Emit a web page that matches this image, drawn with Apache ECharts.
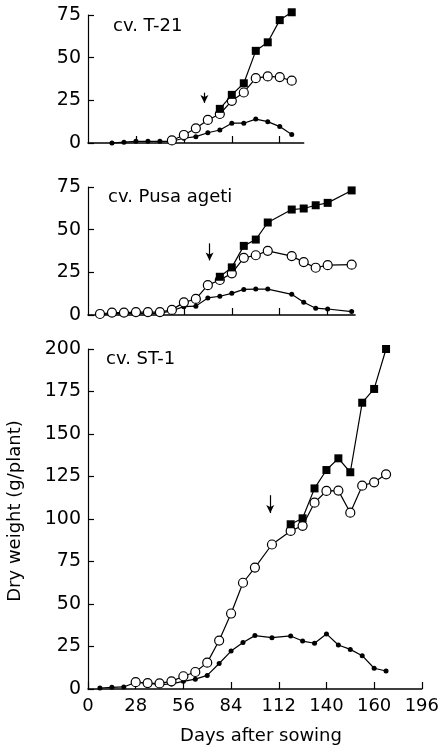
<!DOCTYPE html>
<html lang="en">
<head>
<meta charset="UTF-8">
<script src="https://cdn.jsdelivr.net/npm/echarts@6.0.0/dist/echarts.min.js"></script>
<title>Dry weight</title>
<style>
  body { margin: 0; padding: 0; background: #fff; }
  #chart { width: 442px; height: 748px; }
</style>
</head>
<body>
<div id="chart"></div>
<script>
  // cv. T-21
  const t21DaysA = [77, 84, 91, 98, 105, 112, 119];
  const t21A = [20, 28.2, 35, 54, 59, 72, 76.6];
  const t21DaysB = [49, 56, 63, 70, 77, 84, 91, 98, 105, 112, 119];
  const t21B = [1.5, 4.7, 8.6, 13.5, 17, 24.7, 29.6, 38, 39, 38.6, 36.5];
  const t21DaysC = [14, 21, 28, 35, 42, 49, 56, 63, 70, 77, 84, 91, 98, 105, 112, 119];
  const t21C = [0, 0.5, 1, 1, 1, 1, 2.8, 3.7, 6, 7.6, 11.6, 11.6, 14, 12.5, 9.6, 5];

  // cv. Pusa ageti
  const pusaDaysA = [77, 84, 91, 98, 105, 119, 126, 133, 140, 154];
  const pusaA = [22.4, 27.9, 40.5, 44.2, 54.2, 61.8, 62.4, 64.3, 65.7, 73];
  const pusaDaysB = [7, 14, 21, 28, 35, 42, 49, 56, 63, 70, 77, 84, 91, 98, 105, 119, 126, 133, 140, 154];
  const pusaB = [0.6, 1.4, 1.4, 1.7, 1.7, 1.7, 3, 7.4, 9.4, 17.5, 20.5, 24.4, 33.5, 35, 37.6, 34.5, 31, 27.7, 29.2, 29.5];
  const pusaDaysC = [7, 14, 21, 28, 35, 42, 49, 56, 63, 70, 77, 84, 91, 98, 105, 119, 126, 133, 140, 154];
  const pusaC = [0.3, 0.8, 0.8, 1, 1, 1, 2.5, 4.9, 5.2, 10, 11, 12.7, 15, 15.2, 15.2, 12.1, 7.5, 4, 3.5, 2];

  // cv. ST-1
  const stDaysA = [119, 126, 133, 140, 147, 154, 161, 168, 175];
  const stA = [96.9, 100.4, 118, 128.8, 135.7, 127.5, 168.4, 176.5, 200];
  const stDaysB = [28, 35, 42, 49, 56, 63, 70, 77, 84, 91, 98, 108, 119, 126, 133, 140, 147, 154, 161, 168, 175];
  const stB = [4, 3.5, 3.3, 4.5, 7.5, 10, 15.5, 28.5, 44.4, 62.5, 71.4, 85, 93, 96, 109.6, 116.5, 116.7, 103.7, 119.6, 121.6, 126.3];
  const stDaysC = [7, 14, 21, 28, 35, 42, 49, 56, 63, 70, 77, 84, 91, 98, 108, 119, 126, 133, 140, 147, 154, 161, 168, 175];
  const stC = [0.6, 1, 1.2, 4, 3.5, 2.5, 3, 4.5, 5.8, 8, 15, 22.3, 27.4, 31.4, 30.2, 31.2, 28.2, 26.9, 32.4, 25.9, 23.3, 19.6, 12.2, 10.6];

  // arrows (day, start value, tip value) per panel
  const arrowDays = [68, 71, 107];
  const arrowFrom = [29.5, 42, 114];
  const arrowTo = [23.5, 32, 103.5];

  const panelNames = ['cv. T-21', 'cv. Pusa ageti', 'cv. ST-1'];
  const xTickLabels = ['0', '28', '56', '84', '112', '140', '160', '196'];
  const yTitle = 'Dry weight (g/plant)';
  const xTitle = 'Days after sowing';

  const font = '"DejaVu Sans", sans-serif';
  const pxPerDay = 1.712;

  function pairs(days, vals) {
    return days.map((d, i) => [d, vals[i]]);
  }

  function xAxisFor(idx, max, withLabels) {
    return {
      type: 'value', gridIndex: idx, min: 0, max: max, interval: 28,
      axisLine: { show: true, lineStyle: { color: '#000', width: 1.5 } },
      axisTick: { show: true, inside: true, length: 7, lineStyle: { color: '#000', width: 1.2 },
                  customValues: withLabels ? undefined : [28, 56, 84, 112, 140].filter(v => v < max) },
      axisLabel: withLabels ? {
        show: true, color: '#000', fontFamily: font, fontSize: 18, margin: 8,
        formatter: v => xTickLabels[Math.round(v / 28)]
      } : { show: false },
      splitLine: { show: false }
    };
  }

  function yAxisFor(idx, max) {
    return {
      type: 'value', gridIndex: idx, min: 0, max: max, interval: 25,
      axisLine: { show: true, lineStyle: { color: '#000', width: 1.2 } },
      axisTick: { show: true, inside: true, length: 6, lineStyle: { color: '#000', width: 1.2 } },
      axisLabel: { color: '#000', fontFamily: font, fontSize: 19, margin: 7 },
      splitLine: { show: false }
    };
  }

  function seriesFor(idx, a, b, c, arrow) {
    const base = { type: 'line', xAxisIndex: idx, yAxisIndex: idx, clip: false,
                   lineStyle: { color: '#000', width: 1.2 }, emphasis: { disabled: true } };
    return [
      Object.assign({}, base, {
        data: c, symbol: 'circle', symbolSize: 5, itemStyle: { color: '#000' }, z: 2,
        markLine: {
          silent: true, symbol: ['none', 'arrow'], symbolSize: [6, 8],
          label: { show: false },
          lineStyle: { color: '#000', width: 1.2, type: 'solid' },
          data: [[{ coord: [arrow[0], arrow[1]] }, { coord: [arrow[0], arrow[2]] }]]
        }
      }),
      Object.assign({}, base, {
        data: b, symbol: 'circle', symbolSize: 9, z: 3,
        itemStyle: { color: '#fff', borderColor: '#000', borderWidth: 1.2 }
      }),
      Object.assign({}, base, {
        data: a, symbol: 'rect', symbolSize: 8, itemStyle: { color: '#000' }, z: 4
      })
    ];
  }

  const maxDays = [126, 156, 196];
  const chart = echarts.init(document.getElementById('chart'));

  const option = {
    animation: false,
    backgroundColor: '#fff',
    grid: [
      { left: 88, top: 15, width: maxDays[0] * pxPerDay, height: 128 },
      { left: 88, top: 187, width: maxDays[1] * pxPerDay, height: 128 },
      { left: 88, top: 349, width: maxDays[2] * pxPerDay, height: 340 }
    ],
    xAxis: [xAxisFor(0, maxDays[0], false), xAxisFor(1, maxDays[1], false), xAxisFor(2, maxDays[2], true)],
    yAxis: [yAxisFor(0, 75), yAxisFor(1, 75), yAxisFor(2, 200)],
    series: [].concat(
      seriesFor(0, pairs(t21DaysA, t21A), pairs(t21DaysB, t21B), pairs(t21DaysC, t21C),
                [arrowDays[0], arrowFrom[0], arrowTo[0]]),
      seriesFor(1, pairs(pusaDaysA, pusaA), pairs(pusaDaysB, pusaB), pairs(pusaDaysC, pusaC),
                [arrowDays[1], arrowFrom[1], arrowTo[1]]),
      seriesFor(2, pairs(stDaysA, stA), pairs(stDaysB, stB), pairs(stDaysC, stC),
                [arrowDays[2], arrowFrom[2], arrowTo[2]])
    ),
    graphic: [
      { type: 'text', x: 113, y: 26, style: { text: panelNames[0], font: '18px ' + font, fill: '#000', verticalAlign: 'middle' } },
      { type: 'text', x: 108, y: 197, style: { text: panelNames[1], font: '18px ' + font, fill: '#000', verticalAlign: 'middle' } },
      { type: 'text', x: 106, y: 359, style: { text: panelNames[2], font: '18px ' + font, fill: '#000', verticalAlign: 'middle' } },
      { type: 'text', x: 15, y: 511, rotation: Math.PI / 2,
        style: { text: yTitle, font: '18px ' + font, fill: '#000', align: 'center', verticalAlign: 'middle' } },
      { type: 'text', x: 261, y: 736,
        style: { text: xTitle, font: '18px ' + font, fill: '#000', align: 'center', verticalAlign: 'middle' } }
    ]
  };

  chart.setOption(option);
</script>
</body>
</html>
